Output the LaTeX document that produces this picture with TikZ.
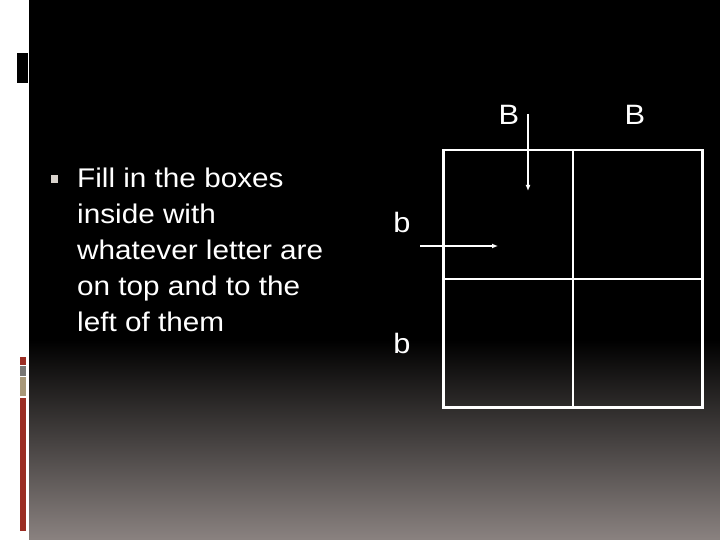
\documentclass[tikz,border=0pt]{standalone}
\usepackage{fontspec}
\newfontfamily\slidefont[FakeStretch=1.1]{Liberation Sans}
\usepackage{xcolor}
\definecolor{PANELBOTTOM}{RGB}{138,130,128}
\definecolor{BARRED}{RGB}{155,45,35}
\definecolor{BARGRAY}{RGB}{120,118,115}
\definecolor{BARTAN}{RGB}{168,152,120}
\definecolor{BULLETCOLOR}{RGB}{216,210,204}
\usepackage{tikz}
\usetikzlibrary{positioning,arrows.meta}
\tikzset{
  text-style/.style = {
    text=white, inner sep=0pt,
    font=\slidefont\fontsize{27pt}{36pt}\selectfont
  },
  letter-style/.style = {
    text-style, anchor=base,
    font=\slidefont\fontsize{28pt}{36pt}\selectfont
  },
  cell-style/.style = {
    rectangle, draw=white, line width=2.5pt,
    minimum width=129.5pt,
    minimum height=128.5pt,
    inner sep=0pt, outer sep=0pt
  },
  bar-style/.style = {
    fill=#1, draw=none
  },
  every edge/.style = {draw, white, line width=1.5pt, -{Latex[length=6pt,width=5pt]}}
}
\begin{document}
\begin{tikzpicture}[x=1pt,y=-1pt]
  \useasboundingbox (0,0) rectangle (720,540);
  % slide background
  \fill[white] (0,0) rectangle (720,540);
  \fill[black] (29,0) rectangle (720,341);
  \shade[top color=black, bottom color=PANELBOTTOM] (29,340) rectangle (720,540);
  % left decoration
  \fill[black] (17,53) rectangle (28,83);
  \fill[bar-style=BARRED] (20,357) rectangle (26,364.5);
  \fill[bar-style=BARGRAY] (20,365.5) rectangle (26,376);
  \fill[bar-style=BARTAN] (20,377) rectangle (26,396);
  \fill[bar-style=BARRED] (20,397.5) rectangle (26,531);

  % bullet text (base = last line)
  \node[fill=BULLETCOLOR, minimum size=7.5pt, inner sep=0pt] (bullet) at (54.5,179) {};
  \node[text-style, anchor=base west, align=left] (task) at (77,331)
    {Fill in the boxes\\inside with\\whatever letter are\\on top and to the\\left of them};

  % punnett square
  \node[cell-style] (topleft) at (508,214.5) {};
  \node[cell-style, right=0pt of topleft] (topright) {};
  \node[cell-style, below=0pt of topleft] (bottomleft) {};
  \node[cell-style, right=0pt of bottomleft] (bottomright) {};

  \node[letter-style] (leftB) at (509,125) {B};
  \node[letter-style] (rightB) at (635,125) {B};
  \node[letter-style] (upperb) at (402,233) {b};
  \node[letter-style] (lowerb) at (402,353) {b};

  \coordinate (downfrom) at (528,114);
  \coordinate (downto) at (528,191);
  \coordinate (sidefrom) at (420,246);
  \coordinate (sideto) at (498,246);
  \path (downfrom) edge (downto);
  \path (sidefrom) edge (sideto);
\end{tikzpicture}
\end{document}
